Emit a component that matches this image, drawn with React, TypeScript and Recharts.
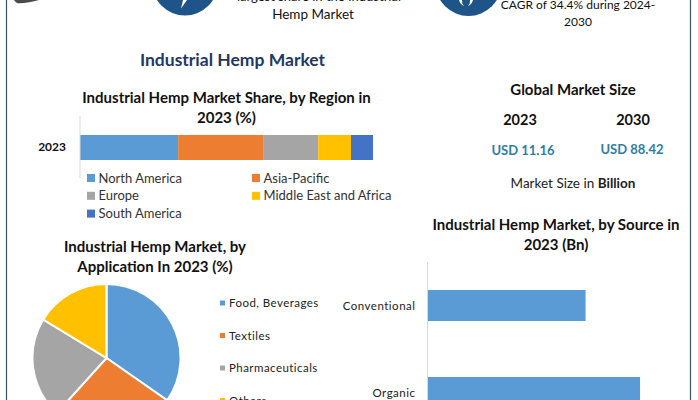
import React from "react";
import { BarChart, Bar, XAxis, YAxis, PieChart, Pie, Cell } from "recharts";

const regionYear = "2023";
const regionNames = ["North America", "Asia-Pacific", "Europe", "Middle East and Africa", "South America"];
const regionShare = [33.5, 29, 18.8, 11.2, 7.5];
const regionColors = ["#5b9bd5", "#ed7d31", "#a5a5a5", "#ffc000", "#4472c4"];

const appNames = ["Food, Beverages", "Textiles", "Pharmaceuticals", "Others"];
const appShare = [34.7, 27, 22, 16.3];
const appColors = ["#5b9bd5", "#ed7d31", "#a5a5a5", "#ffc000"];

const sourceNames = ["Conventional", "Organic"];
const sourceValues = [4.76, 6.4];

const regionRow: Record<string, string | number> = { year: regionYear };
regionNames.forEach((n, i) => { regionRow[n] = regionShare[i]; });
const appData = appNames.map((name, i) => ({ name, value: appShare[i] }));
const sourceData = sourceNames.map((name, i) => ({ name, value: sourceValues[i] }));

const FONT = "Lato, 'Open Sans', sans-serif";

function T({ x, y, size, bold, color = "#111", anchor = "middle", children, spacing }: any) {
  return (
    <text x={x} y={y} fontSize={size} fontWeight={bold ? 700 : 400} fill={color} textAnchor={anchor} letterSpacing={spacing} fontFamily={FONT}>
      {children}
    </text>
  );
}

function Overlay() {
  return (
    <svg width={698} height={400} style={{ position: "absolute", left: 0, top: 0 }}>
      <line x1={6.5} y1={0} x2={6.5} y2={400} stroke="#3b5166" strokeWidth={1.2} />
      <line x1={690.5} y1={0} x2={690.5} y2={400} stroke="#3b5166" strokeWidth={1.2} />
      <path d="M14 0 L39 0 C32 2 24 3.5 18 3.2 C16 3 15 1.5 14 0 Z" fill="#4a4a4a" />
      <circle cx={185} cy={-17.5} r={33} fill="#1f5488" />
      <path d="M181 8.5 L187 0 L183 0 Z" fill="#fff" />
      <circle cx={468.5} cy={-17} r={33} fill="#1f5488" />
      <path d="M459 0 C460 3 461 5 464 6 C462 4 462 2 462 0 Z M473 0 C472 3 471 5 468 6 C470 4 470 2 470 0 Z" fill="#fff" />

      <T x={319} y={0.5} size={13}>largest share in the Industrial</T>
      <T x={313} y={19} size={13.5}>Hemp Market</T>
      <T x={578} y={8.5} size={12}>CAGR of 34.4% during 2024-</T>
      <T x={578} y={25.5} size={12}>2030</T>

      <T x={232.5} y={65.5} size={17.5} bold color="#1f3864">Industrial Hemp Market</T>

      <T x={226.5} y={103} size={15} bold>Industrial Hemp Market Share, by Region in</T>
      <T x={226.5} y={123} size={15} bold>2023 (%)</T>

      <T x={155} y={252} size={15} bold>Industrial Hemp Market, by</T>
      <T x={155} y={272} size={15} bold>Application In 2023 (%)</T>

      <T x={556} y={230} size={15} bold>Industrial Hemp Market, by Source in</T>
      <T x={556} y={250} size={15} bold>2023 (Bn)</T>

      <T x={573} y={95} size={15} bold>Global Market Size</T>
      <T x={520} y={125} size={14.5} bold>2023</T>
      <T x={633} y={125} size={14.5} bold>2030</T>
      <T x={523} y={155} size={13} bold color="#2e7da6">USD 11.16</T>
      <T x={632} y={154} size={13} bold color="#2e7da6">USD 88.42</T>
      <text x={573} y={188} fontSize={13.5} textAnchor="middle" fontFamily={FONT} fill="#222">
        Market Size in <tspan fontWeight={700}>Billion</tspan>
      </text>

      {regionNames.map((n, i) => {
        const col = i % 2;
        const row = Math.floor(i / 2);
        const y = 178 + row * 17.8;
        return (
          <g key={n}>
            <rect x={col ? 252 : 87} y={y - 4} width={8} height={8} fill={regionColors[i]} />
            <T x={col ? 263.5 : 98.5} y={y + 4.5} size={13} anchor="start" color="#333" spacing={0}>{n}</T>
          </g>
        );
      })}

      {appNames.map((n, i) => {
        const y = 303 + i * 32.5;
        return (
          <g key={n}>
            <rect x={220} y={y - 2.5} width={5} height={5} fill={appColors[i]} />
            <T x={229} y={y + 4} size={11.5} anchor="start" color="#222" spacing={0.45}>{n}</T>
          </g>
        );
      })}
    </svg>
  );
}

export default function App() {
  return (
    <div style={{ position: "fixed", left: 0, top: 0, width: 698, height: 400, overflow: "hidden", background: "#fff" }}>
      <Overlay />
      <div style={{ position: "absolute", left: 0, top: 116 }}>
        <BarChart width={400} height={62} layout="vertical" data={[regionRow]} margin={{ top: 0, right: 27, bottom: 0, left: 0 }}>
          <XAxis type="number" domain={[0, 100]} hide />
          <YAxis type="category" dataKey="year" width={80} axisLine={{ stroke: "#d9d9d9" }} tickLine={false} tickMargin={8}
            tick={{ fontSize: 12, fill: "#111", fontFamily: FONT, fontWeight: 700 }} />
          {regionNames.map((n, i) => (
            <Bar key={n} dataKey={n} stackId="r" fill={regionColors[i]} barSize={25} isAnimationActive={false} />
          ))}
        </BarChart>
      </div>
      <div style={{ position: "absolute", left: 0, top: 270 }}>
        <PieChart width={215} height={180} margin={{ top: 0, right: 0, bottom: 0, left: 0 }}>
          <Pie data={appData} dataKey="value" cx={106.5} cy={88} outerRadius={74} innerRadius={0} startAngle={90} endAngle={-270}
            stroke="#fff" strokeWidth={2} isAnimationActive={false}>
            {appData.map((d, i) => <Cell key={d.name} fill={appColors[i]} />)}
          </Pie>
        </PieChart>
      </div>
      <div style={{ position: "absolute", left: 340, top: 262 }}>
        <BarChart width={320} height={174} layout="vertical" data={sourceData} margin={{ top: 0, right: 0, bottom: 0, left: 0 }}>
          <XAxis type="number" domain={[0, 7]} hide />
          <YAxis type="category" dataKey="name" width={87.5} axisLine={{ stroke: "#d9d9d9" }} tickLine={false} tickMargin={6}
            tick={{ fontSize: 11.5, fill: "#222", fontFamily: FONT, letterSpacing: 0.5 }} />
          <Bar dataKey="value" fill="#5b9bd5" barSize={31} isAnimationActive={false} />
        </BarChart>
      </div>
    </div>
  );
}
